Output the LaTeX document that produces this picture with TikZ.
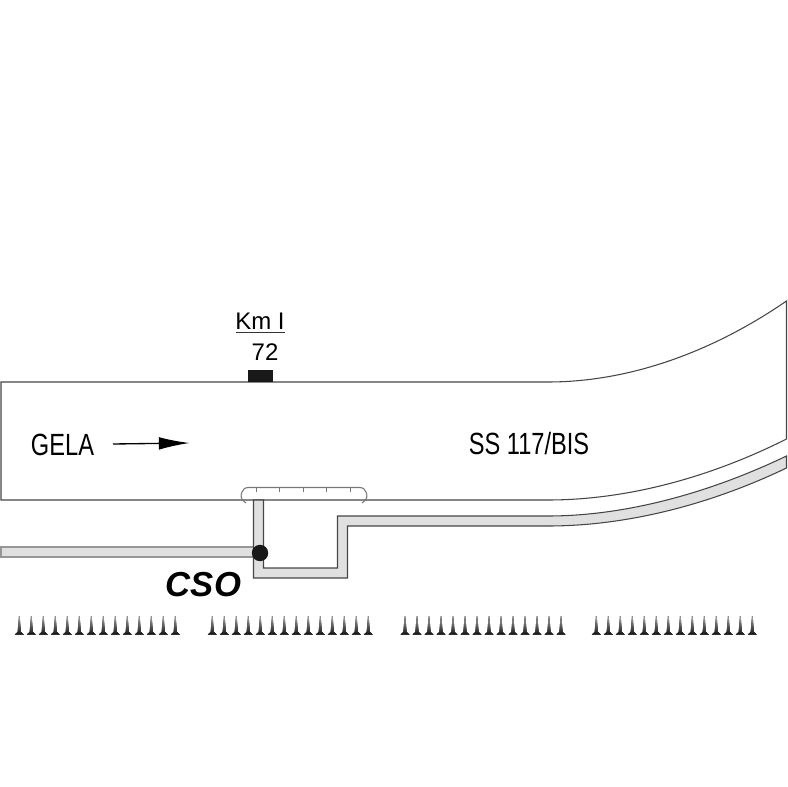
\documentclass[tikz,border=0pt]{standalone}
\usepackage{fontspec}
\setmainfont{Liberation Sans}
\usetikzlibrary{arrows.meta}
\tikzset{
  roadline/.style={draw={rgb,255:red,70;green,70;blue,70},line width=0.8pt},
  bandfill/.style={roadline,fill={rgb,255:red,224;green,224;blue,224}},
  kerbline/.style={draw={rgb,255:red,120;green,120;blue,120},line width=0.8pt},
  spikeshape/.style={top color={rgb,255:red,170;green,170;blue,170},middle color={rgb,255:red,45;green,42;blue,42},bottom color={rgb,255:red,20;green,18;blue,18},draw=none},
  roadtext/.style={inner sep=0.75pt,xscale=0.77,font=\fontsize{23pt}{25pt}\selectfont},
}
\begin{document}
\begin{tikzpicture}[x=0.75pt,y=0.75pt,yscale=-1,xscale=1]
        \useasboundingbox (0,0) rectangle (788,787);

        %Shape: Road
        \draw [roadline,fill=white] (1,382) -- (548,382) .. controls (622,382) and (705,357) .. (786.5,301) -- (786.5,439) .. controls (705,480) and (622,500) .. (548,500) -- (1,500) -- cycle ;
        %Shape: Km marker
        \fill [black!90] (248,370) rectangle (273,382.5) ;
        %Shape: Side road
        \draw [bandfill,draw={rgb,255:red,150;green,150;blue,150}] (1,547) -- (254,547) -- (254,557) -- (1,557) -- cycle ;
        %Shape: Ramp
        \draw [bandfill] (253.5,500) -- (263.5,500) -- (263.5,568) -- (337.5,568) -- (337.5,516) -- (548,516) .. controls (622,516) and (705,495) .. (786.5,456) -- (786.5,468) .. controls (705,507) and (622,526) .. (548,526) -- (347.5,526) -- (347.5,578) -- (253.5,578) -- cycle ;
        %Shape: Junction
        \fill [black!90] (260,553) circle [radius=8.2] ;
        %Curve Lines: Kerb
        \draw [kerbline] (246,503) .. controls (241,500) and (240,496) .. (242,492) .. controls (243,489) and (245,487.5) .. (249,487.5) -- (359,487.5) .. controls (363,487.5) and (365,489) .. (366,492) .. controls (368,496) and (367,500) .. (362,503) ;
        \foreach \tickx in {256,279.5,303,326.5,350} {
          \draw [kerbline,line width=0.5pt] (\tickx,487.5) -- (\tickx,492) ;
        }
        %Straight Lines: Fence
        \foreach \groupx in {19.3,212.3,405,596.3} {
          \foreach \spikeno in {0,...,13} {
            \fill [spikeshape,shift={({\groupx+12*\spikeno},0)}] (-0.3,616) -- (0.3,616) -- (1.7,632) -- (4.5,634.5) -- (-4.5,634.5) -- (-1.7,632) -- cycle ;
          }
        }
        %Straight Lines: Direction
        \coordinate (dirstart) at (113,444) ;
        \coordinate (dirend) at (189.5,443) ;
        \draw [line width=1pt,-{Latex[length=23pt,width=9.5pt]}] (dirstart) -- (dirend) ;

        % Text Node
        \node (kmlabel) at (260,321) [inner sep=0.75pt,font=\fontsize{18pt}{20pt}\selectfont] {Km I};
        \draw [black!80,line width=0.9pt] (236,332.5) -- (284.5,332.5) ;
        % Text Node
        \node (kmvalue) at (265,352) [inner sep=0.75pt,font=\fontsize{18pt}{20pt}\selectfont] {72};
        % Text Node
        \node (gelalabel) at (62.5,444.5) [roadtext] {GELA};
        % Text Node
        \node (roadlabel) at (529,444) [roadtext] {SS 117/BIS};
        % Text Node
        \node (csolabel) at (203.5,584.5) [inner sep=0.75pt,font=\fontsize{26pt}{28pt}\selectfont\bfseries\itshape] {CSO};
\end{tikzpicture}
\end{document}
